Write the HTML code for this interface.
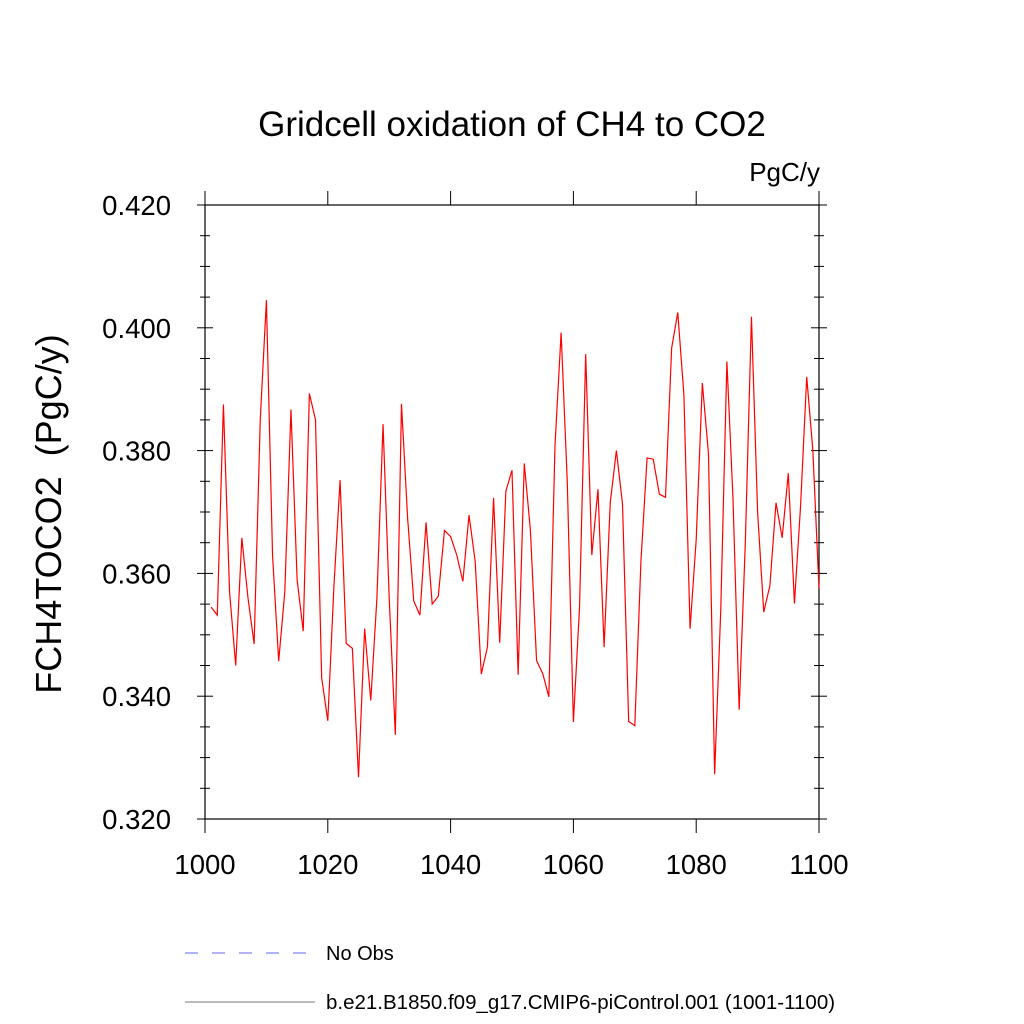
<!DOCTYPE html>
<html><head><meta charset="utf-8"><style>
body{margin:0;background:#fff}
svg{display:block;font-family:"Liberation Sans",sans-serif}
</style></head><body>
<svg id="chart" width="1024" height="1024" xmlns="http://www.w3.org/2000/svg">
<text x="512" y="136" font-size="35" text-anchor="middle">Gridcell oxidation of CH4 to CO2</text>
<text x="820" y="181" font-size="26" text-anchor="end">PgC/y</text>
<text transform="translate(61,514) rotate(-90)" font-size="36" text-anchor="middle" xml:space="preserve">FCH4TOCO2  (PgC/y)</text>
<rect x="205" y="205" width="614" height="614" fill="none" stroke="#000" stroke-width="1.2"/>
<g id="ticks"></g>
<path id="series" fill="none" stroke="#f00" stroke-width="1.2"/>
<line x1="185" y1="953" x2="315" y2="953" stroke="#66f" stroke-width="1" stroke-dasharray="13,14"/>
<text x="326" y="960" font-size="20">No Obs</text>
<line x1="185" y1="1002" x2="315" y2="1002" stroke="#777" stroke-width="1"/>
<text x="326" y="1009" font-size="20.5">b.e21.B1850.f09_g17.CMIP6-piControl.001 (1001-1100)</text>
</svg>
<script>
const years=[];for(let y=1001;y<=1100;y++)years.push(y);
const values=[0.3545,0.3532,0.3875,0.357,0.345,0.3658,0.356,0.3485,0.385,0.4045,
0.363,0.3457,0.357,0.3867,0.359,0.3506,0.3893,0.385,0.343,0.336,
0.358,0.3752,0.3486,0.3478,0.3268,0.351,0.3393,0.356,0.3843,0.356,
0.3337,0.3876,0.369,0.3555,0.3532,0.3683,0.355,0.3563,0.367,0.366,
0.363,0.3587,0.3695,0.362,0.3436,0.348,0.3723,0.3487,0.3734,0.3768,
0.3435,0.3779,0.367,0.3458,0.3437,0.3399,0.3808,0.3992,0.375,0.3358,
0.3545,0.3957,0.363,0.3737,0.348,0.3715,0.380,0.3713,0.3359,0.3352,
0.362,0.3788,0.3786,0.3729,0.3724,0.3967,0.4025,0.389,0.351,0.3655,
0.391,0.3795,0.3273,0.354,0.3945,0.372,0.3378,0.365,0.4018,0.370,
0.3537,0.358,0.3715,0.3658,0.3763,0.3551,0.371,0.392,0.380,0.3575];
const xTicks=[1000,1020,1040,1060,1080,1100];
const yTicks=[0.32,0.34,0.36,0.38,0.40,0.42];
const yTickLabels=["0.320","0.340","0.360","0.380","0.400","0.420"];
const X0=205,X1=819,Y0=819,Y1=205;
function xs(v){return X0+(v-1000)/100*(X1-X0);}
function ys(v){return Y0-(v-0.32)/0.1*(Y0-Y1);}
const NS="http://www.w3.org/2000/svg";
const g=document.getElementById('ticks');
function line(x1,y1,x2,y2,name){const l=document.createElementNS(NS,'line');
l.setAttribute('x1',x1);l.setAttribute('y1',y1);l.setAttribute('x2',x2);l.setAttribute('y2',y2);
l.setAttribute('stroke','#000');l.setAttribute('stroke-width','1');


g.appendChild(l);}
function text(x,y,s,anchor,name){const t=document.createElementNS(NS,'text');
t.setAttribute('x',x);t.setAttribute('y',y);t.setAttribute('font-size','27.5');t.setAttribute('text-anchor',anchor);t.textContent=s;


g.appendChild(t);}
xTicks.forEach(v=>{const x=xs(v);line(x,Y0,x,Y0+14,'x-tick');line(x,Y1,x,Y1-14,'x-tick-top');text(x,Y0+55,String(v),'middle','x-tick-label');});
for(let v=0.32;v<=0.42001;v+=0.005){const y=ys(v);const major=Math.abs(Math.round(v*50)-v*50)<1e-6;
const L=major?8:5;line(X0-L,y,X0+L,y,major?'y-tick':'y-minor-tick');line(X1-L,y,X1+L,y,major?'y-tick-right':'y-minor-tick-right');}
yTicks.forEach((v,i)=>text(X0-34,ys(v)+10,yTickLabels[i],'end','y-tick-label'));
let d='';years.forEach((yr,i)=>{d+=(i?'L':'M')+xs(yr).toFixed(2)+','+ys(values[i]).toFixed(2);});
document.getElementById('series').setAttribute('d',d);
</script>
</body></html>
